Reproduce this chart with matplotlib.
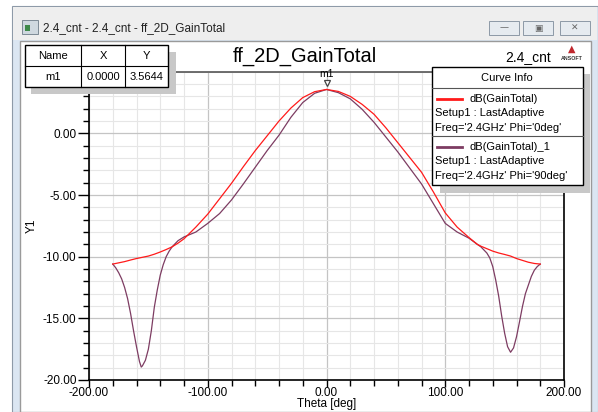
import matplotlib
matplotlib.use("Agg")
import matplotlib.pyplot as plt
from matplotlib.patches import Rectangle
from matplotlib.lines import Line2D
from matplotlib.ticker import MultipleLocator, FormatStrFormatter

plt.rcParams['font.family'] = ['Liberation Sans', 'DejaVu Sans']

# data
theta_phi0 = [-180, -175, -170, -165, -160, -155, -150, -145, -140, -135, -130, -125,
              -120, -110, -100, -90, -80, -70, -60, -50, -40, -30, -20, -10, 0,
              10, 20, 30, 40, 50, 60, 70, 80, 90, 100, 110, 120, 127, 130, 135,
              140, 145, 150, 155, 160, 165, 170, 175, 180]
gain_phi0 = [-10.60, -10.50, -10.40, -10.27, -10.15, -10.05, -9.95, -9.80, -9.62, -9.42, -9.20, -8.90,
             -8.55, -7.60, -6.55, -5.30, -4.05, -2.70, -1.40, -0.20, 1.00, 2.05, 2.90, 3.38, 3.56,
             3.40, 3.00, 2.35, 1.55, 0.45, -0.75, -1.95, -3.15, -4.75, -6.45, -7.60, -8.45, -9.00, -9.15, -9.35,
             -9.55, -9.70, -9.82, -9.95, -10.15, -10.30, -10.45, -10.55, -10.60]
theta_phi90 = [-180, -177.5, -175, -172.5, -170, -167.5, -165, -162.5, -160, -157.5, -156, -155,
               -152.5, -150, -147.5, -145, -142.5, -140, -137.5, -135, -132.5, -130, -125,
               -120, -110, -100, -90, -80, -70, -60, -50, -40, -30, -20, -10, 0,
               10, 20, 30, 40, 50, 60, 70, 80, 90, 100, 110, 120, 127, 130, 135, 137.5,
               140, 142.5, 145, 147.5, 150, 152.5, 155, 157.5, 160, 162.5, 165, 167.5,
               170, 172.5, 175, 177.5, 180]
gain_phi90 = [-10.60, -10.90, -11.30, -11.80, -12.50, -13.40, -14.60, -16.00, -17.30, -18.50, -18.95, -18.85,
              -18.40, -17.50, -16.00, -14.10, -12.70, -11.50, -10.65, -10.00, -9.55, -9.20, -8.70,
              -8.40, -8.00, -7.30, -6.50, -5.40, -4.10, -2.75, -1.40, -0.15, 1.30, 2.50, 3.25, 3.56,
              3.30, 2.80, 1.95, 0.90, -0.30, -1.50, -2.80, -4.10, -5.70, -7.30, -8.00, -8.50, -9.00, -9.20, -9.70, -10.10,
              -10.80, -11.90, -13.20, -14.80, -16.20, -17.30, -17.75, -17.40, -16.50, -15.30, -14.05, -13.00,
              -12.30, -11.60, -11.10, -10.80, -10.60]
curve_names = ["dB(GainTotal)", "dB(GainTotal)_1"]
curve_phi = ["0deg", "90deg"]
y_ticks = [-20, -15, -10, -5, 0]
marker_theta = 0.0
marker_val = 3.5644

W, H = 598, 412
fig = plt.figure(figsize=(W / 100, H / 100), dpi=100)
fig.patch.set_facecolor('white')

def fx(x):
    return x / W

def fy(y):
    return 1 - y / H

def box(x0, y0, x1, y1, **kw):
    r = Rectangle((fx(x0), fy(y1)), fx(x1) - fx(x0), fy(y0) - fy(y1),
                  transform=fig.transFigure, **kw)
    fig.add_artist(r)
    return r

def line(x0, y0, x1, y1, **kw):
    fig.add_artist(Line2D([fx(x0), fx(x1)], [fy(y0), fy(y1)], transform=fig.transFigure, **kw))

# window chrome
box(12, 6, 598, 412, facecolor='#dbe6f2', edgecolor='#8e9aa8', lw=0.8, zorder=0)
box(13, 7, 597, 40, facecolor='#eeeeee', edgecolor='none', zorder=0)
box(20, 41, 591, 412, facecolor='white', edgecolor='#9a9a9a', lw=1.0, zorder=0)
box(22, 20, 38, 34, facecolor='#cfd8df', edgecolor='#6d7c88', lw=0.6, zorder=1)
box(25, 25, 30, 31, facecolor='#3f8a4a', edgecolor='none', zorder=2)
fig.text(fx(43), fy(28), "2.4_cnt - 2.4_cnt - ff_2D_GainTotal", fontsize=8.5,
         color='#222222', va='center', ha='left')
for bx, sym in [(489, '\u2014'), (523, '\u25a3'), (560, '\u2715')]:
    box(bx, 21, bx + 30, 35, facecolor='#e6ebf0', edgecolor='#8d99a6', lw=0.7, zorder=1)
    fig.text(fx(bx + 15), fy(28), sym, fontsize=6.5, color='#666666', ha='center', va='center',
             family=['DejaVu Sans'])

# main axes
ax = fig.add_axes([fx(89), fy(380), fx(564) - fx(89), fy(71.7) - fy(380)])
ax.plot(theta_phi90, gain_phi90, color='#7d3c62', lw=0.9, zorder=3)
ax.plot(theta_phi0, gain_phi0, color='#ff1a1a', lw=0.9, zorder=4)
ax.set_xlim(-200, 200)
ax.set_ylim(-20, 5)
ax.xaxis.set_major_locator(MultipleLocator(100))
ax.xaxis.set_minor_locator(MultipleLocator(20))
ax.set_yticks(y_ticks)
ax.yaxis.set_minor_locator(MultipleLocator(1))
ax.xaxis.set_major_formatter(FormatStrFormatter('%.2f'))
ax.yaxis.set_major_formatter(FormatStrFormatter('%.2f'))
ax.grid(which='major', color='#c4c4c4', lw=0.9)
ax.grid(which='minor', color='#e6e6e6', lw=0.8)
ax.set_axisbelow(True)
ax.tick_params(axis='y', which='major', direction='out', length=8, width=1, labelsize=8.5, pad=1)
ax.tick_params(axis='y', which='minor', direction='out', length=4, width=1)
ax.tick_params(axis='x', which='major', direction='out', length=5, width=1, labelsize=8.5, pad=0)
ax.tick_params(axis='x', which='minor', direction='out', length=4, width=1)
ax.tick_params(top=False, right=False)
for s in ax.spines.values():
    s.set_color('black')
    s.set_linewidth(1.2)
ax.spines['top'].set_color('#555555')
ax.set_xlabel("Theta [deg]", fontsize=8.5, labelpad=-1)
ax.set_ylabel("Y1", fontsize=8.5, labelpad=4)

# marker m1
ax.plot([marker_theta], [marker_val + 0.5], marker='v', ms=5, mfc='white', mec='#444444',
        mew=0.9, zorder=6, clip_on=False)
ax.text(marker_theta, marker_val + 0.85, "m1", fontsize=7.5, ha='center', va='bottom', zorder=6)

# title texts
fig.text(fx(305), fy(56), "ff_2D_GainTotal", fontsize=14.5, ha='center', va='center')
fig.text(fx(528), fy(57), "2.4_cnt", fontsize=10, ha='center', va='center')
fig.text(fx(572), fy(49), "\u25b2", fontsize=7, color='#c0272d', ha='center', va='center',
         family=['DejaVu Sans'])
fig.text(fx(572), fy(59), "ANSOFT", fontsize=3.8, weight='bold', color='#333333',
         ha='center', va='center')

# marker table
box(31, 52, 176, 94, facecolor='#c8c8c8', edgecolor='none', zorder=8)
box(25, 45, 168, 87, facecolor='white', edgecolor='black', lw=1.0, zorder=9)
line(25, 66, 168, 66, color='black', lw=0.8, zorder=10)
line(81, 45, 81, 87, color='black', lw=0.8, zorder=10)
line(125, 45, 125, 87, color='black', lw=0.8, zorder=10)
for cx, hdr, val in [(53, "Name", "m1"), (103, "X", "%.4f" % marker_theta),
                     (146.5, "Y", "%.4f" % marker_val)]:
    fig.text(fx(cx), fy(56), hdr, fontsize=8, ha='center', va='center', zorder=11)
    fig.text(fx(cx), fy(77), val, fontsize=8, ha='center', va='center', zorder=11)

# curve info legend
box(440, 74, 590, 193, facecolor='#c8c8c8', edgecolor='none', zorder=8)
box(432, 67, 583, 185, facecolor='white', edgecolor='black', lw=1.0, zorder=9)
fig.text(fx(507), fy(78), "Curve Info", fontsize=8, ha='center', va='center', zorder=11)
line(432, 88, 583, 88, color='#555555', lw=0.8, zorder=10)
line(432, 136, 583, 136, color='#555555', lw=0.8, zorder=10)
for i, (nm, ph, col) in enumerate(zip(curve_names, curve_phi, ['#ff1a1a', '#7d3c62'])):
    y0 = 99 + 48 * i
    line(437, y0, 462, y0, color=col, lw=2.0, zorder=10)
    fig.text(fx(470), fy(y0), nm, fontsize=8, ha='left', va='center', zorder=11)
    fig.text(fx(435), fy(y0 + 14), "Setup1 : LastAdaptive", fontsize=8, ha='left',
             va='center', zorder=11)
    fig.text(fx(435), fy(y0 + 29), "Freq='2.4GHz' Phi='%s'" % ph, fontsize=8, ha='left',
             va='center', zorder=11)

fig.savefig("out.png", dpi=100)
